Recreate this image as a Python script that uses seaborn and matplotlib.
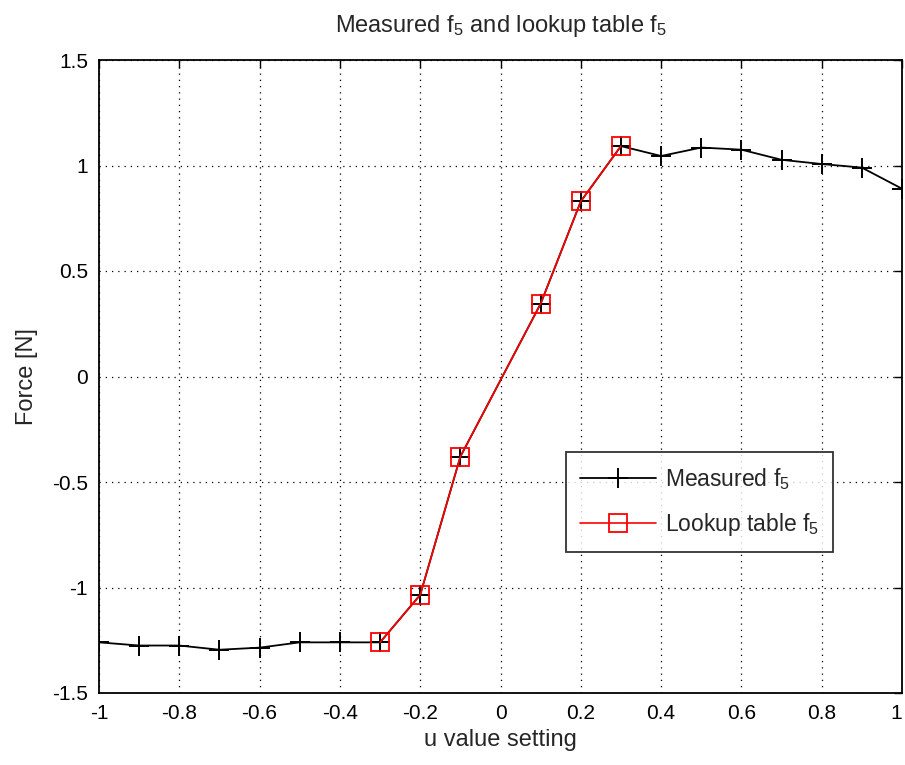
import matplotlib
matplotlib.use("Agg")
import matplotlib.pyplot as plt
import seaborn as sns
import pandas as pd

meas_u = [-1.0, -0.9, -0.8, -0.7, -0.6, -0.5, -0.4, -0.3, -0.2, -0.1,
          0.1, 0.2, 0.3, 0.4, 0.5, 0.6, 0.7, 0.8, 0.9, 1.0]
meas_f = [-1.26, -1.275, -1.275, -1.295, -1.285, -1.26, -1.26, -1.26, -1.035, -0.38,
          0.345, 0.83, 1.092, 1.045, 1.085, 1.075, 1.027, 1.007, 0.99, 0.89]
lut_u = [-0.3, -0.2, -0.1, 0.1, 0.2, 0.3]
lut_f = [-1.26, -1.035, -0.38, 0.345, 0.83, 1.092]

sns.set_style("white")
plt.rcParams['font.family'] = ['Liberation Sans', 'DejaVu Sans']
plt.rcParams['mathtext.default'] = 'regular'

fig = plt.figure(figsize=(9.05, 7.65), dpi=100)
ax = fig.add_axes([99/905, 1-693/765, 803/905, 633/765])

df_m = pd.DataFrame({"u": meas_u, "f": meas_f})
df_l = pd.DataFrame({"u": lut_u, "f": lut_f})

sns.lineplot(data=df_m, x="u", y="f", ax=ax, color="black", marker="+",
             markersize=14, markeredgewidth=1.4, markeredgecolor="black",
             linewidth=1.3, label=r"Measured f$_5$", sort=False)
sns.lineplot(data=df_l, x="u", y="f", ax=ax, color="red", marker="s",
             markersize=13, markerfacecolor="none", markeredgecolor="red",
             markeredgewidth=1.3, linewidth=1.2,
             label=r"Lookup table f$_5$", sort=False)

ax.set_xlim(-1, 1)
ax.set_ylim(-1.5, 1.5)
xt = [-1, -0.8, -0.6, -0.4, -0.2, 0, 0.2, 0.4, 0.6, 0.8, 1]
yt = [-1.5, -1, -0.5, 0, 0.5, 1, 1.5]
ax.set_xticks(xt)
ax.set_xticklabels(["-1", "-0.8", "-0.6", "-0.4", "-0.2", "0", "0.2", "0.4", "0.6", "0.8", "1"])
ax.set_yticks(yt)
ax.set_yticklabels(["-1.5", "-1", "-0.5", "0", "0.5", "1", "1.5"])
ax.get_xticklabels()[-1].set_horizontalalignment("right")
ax.grid(True, color="black", linestyle=(0, (1, 4)), linewidth=0.9)
ax.tick_params(direction="in", length=6, width=1, top=True, right=True,
               labelsize=15, colors="black", pad=8)
for s in ax.spines.values():
    s.set_visible(True)
    s.set_color("black")
    s.set_linewidth(1.3)

ax.set_xlabel("u value setting", fontsize=17, labelpad=4)
ax.set_ylabel("Force [N]", fontsize=17, labelpad=10)
ax.set_title(r"Measured f$_5$ and lookup table f$_5$", fontsize=17, pad=20)

leg = ax.legend(loc="lower left", bbox_to_anchor=(0.582, 0.223), borderaxespad=0,
                fontsize=16.5, frameon=True, fancybox=False, edgecolor="black",
                handlelength=3.3, borderpad=0.6, labelspacing=0.85, handletextpad=0.4)
leg.get_frame().set_linewidth(1.3)

fig.savefig("out.png", dpi=100, facecolor="white")
